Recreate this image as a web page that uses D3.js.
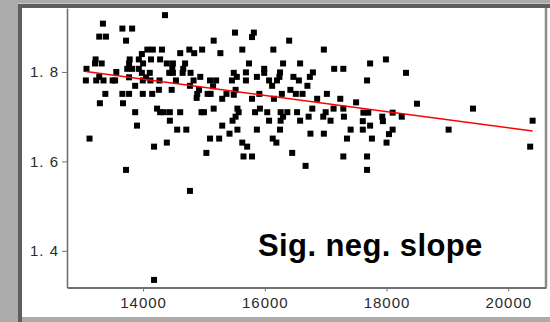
<!DOCTYPE html>
<html>
<head>
<meta charset="utf-8">
<script src="https://cdn.jsdelivr.net/npm/d3@7"></script>
<style>
  body { margin: 0; background: #ababab; }
  svg { display: block; }
</style>
</head>
<body>
<svg class="scatter"></svg>
<script>
// scatter data: x values and y values, same order
var xValues = [
  14360, 13340, 13660, 13820, 13280, 13390, 13720, 15510, 15160, 14070,
  14160, 14310, 13980, 14610, 14760, 14840, 14970, 15270, 13780, 13930,
  14130, 14280, 13220, 13210, 13320, 13770, 14000, 14390, 14490, 14690,
  13740, 13820, 13930, 13070, 14480, 14660, 14430, 14490, 14650, 14780,
  13560, 13980, 14110, 15490, 13280, 13770, 14050, 14940, 13060, 13230,
  13350, 13500, 13540, 13995, 14120, 14270, 14540, 14830, 15100, 15200,
  15460, 13870, 14770, 15150, 14260, 14470, 14920, 13380, 13660, 13770,
  13995, 14150, 14890, 15060, 15110, 15370, 14880, 15300, 15490,
  15820, 15790, 16400, 15630, 16140, 16970, 17990, 17730, 15740, 16300,
  16580, 15690, 15990, 15990, 16250, 16790, 17140, 17290, 15540, 15870,
  16470, 16740, 15690, 16070, 16200, 16240, 16560, 17680, 16120, 16700,
  15520, 16420, 15910, 16280, 16510, 16620, 17020, 15790, 16150, 16860,
  17240, 17500,
  18320, 18500, 19420,
  13290, 13670, 13870, 14230, 14280, 14340, 14440, 14610, 14960, 15000,
  15160, 15550, 15570, 15840, 15920, 16040, 16260, 16370, 16530, 16780,
  17000, 17130, 17290, 17620, 17700, 17930, 18100, 18250, 14440, 15470,
  15520, 16070, 16260, 16300, 16580, 16720, 16960, 17080, 17300, 17610,
  17940, 13900, 14560, 14710, 15300, 15550, 15870, 16250, 17410, 17610,
  17730, 18100, 13120, 15100, 15250, 15420, 16130, 16750, 16970, 17350,
  17760, 18040, 14180, 14390, 15630, 15710, 16190, 18000, 15040, 15650,
  15790, 16450, 17290, 17680, 13720, 16670, 17680, 19020, 20400, 20360,
  14770, 14180
];

var yValues = [
  1.927, 1.908, 1.897, 1.897, 1.879, 1.879, 1.870, 1.888, 1.870, 1.850,
  1.850, 1.850, 1.840, 1.842, 1.850, 1.842, 1.850, 1.842, 1.828, 1.828,
  1.828, 1.828, 1.828, 1.819, 1.819, 1.819, 1.819, 1.819, 1.819, 1.819,
  1.807, 1.807, 1.807, 1.807, 1.807, 1.807, 1.798, 1.798, 1.798, 1.798,
  1.800, 1.798, 1.798, 1.798, 1.789, 1.788, 1.788, 1.789, 1.781, 1.781,
  1.781, 1.781, 1.781, 1.781, 1.781, 1.781, 1.781, 1.781, 1.781, 1.781,
  1.781, 1.769, 1.769, 1.768, 1.760, 1.760, 1.760, 1.751, 1.751, 1.751,
  1.751, 1.751, 1.751, 1.751, 1.751, 1.751, 1.742, 1.740, 1.749,
  1.888, 1.878, 1.870, 1.850, 1.850, 1.850, 1.828, 1.819, 1.819, 1.819,
  1.819, 1.799, 1.807, 1.798, 1.799, 1.799, 1.807, 1.807, 1.789, 1.789,
  1.789, 1.789, 1.781, 1.781, 1.781, 1.789, 1.781, 1.781, 1.769, 1.769,
  1.760, 1.760, 1.751, 1.751, 1.751, 1.751, 1.751, 1.740, 1.740, 1.740,
  1.740, 1.732,
  1.798, 1.729, 1.718,
  1.730, 1.730, 1.710, 1.718, 1.710, 1.710, 1.710, 1.710, 1.710, 1.710,
  1.718, 1.718, 1.710, 1.710, 1.718, 1.710, 1.710, 1.710, 1.710, 1.718,
  1.710, 1.718, 1.718, 1.709, 1.709, 1.700, 1.709, 1.700, 1.691, 1.691,
  1.700, 1.691, 1.691, 1.700, 1.691, 1.700, 1.700, 1.691, 1.700, 1.690,
  1.690, 1.680, 1.671, 1.671, 1.680, 1.671, 1.671, 1.671, 1.671, 1.671,
  1.680, 1.671, 1.651, 1.651, 1.651, 1.662, 1.651, 1.662, 1.662, 1.651,
  1.651, 1.661, 1.633, 1.642, 1.642, 1.633, 1.642, 1.642, 1.619, 1.611,
  1.611, 1.619, 1.611, 1.611, 1.581, 1.590, 1.581, 1.671, 1.691, 1.633,
  1.534, 1.335
];

// fitted line ends
var fitX = [13060, 20400];
var fitY = [1.801, 1.668];

var xTicks = [14000, 16000, 18000, 20000];
var yTicks = [1.4, 1.6, 1.8];
var note = "Sig. neg. slope";

var data = xValues.map(function(d, i) { return {x: d, y: yValues[i]}; });

var width = 550, height = 322;
var plot = {left: 67, right: 546, top: 8, bottom: 287.5};

var x = d3.scaleLinear()
    .domain([12750, 20620])
    .range([plot.left, plot.right]);

var y = d3.scaleLinear()
    .domain([1.318, 1.943])
    .range([plot.bottom, plot.top]);

var svg = d3.select(".scatter")
    .attr("width", width)
    .attr("height", height);

// window frame
svg.append("rect").attr("width", width).attr("height", height).attr("fill", "#ababab");
svg.append("rect").attr("x", 18).attr("y", 3).attr("width", 532).attr("height", 1).attr("fill", "#c8c8c8");
svg.append("rect").attr("x", 18).attr("y", 4).attr("width", 532).attr("height", 4).attr("fill", "#5e5e5e");
svg.append("rect").attr("x", 18).attr("y", 4).attr("width", 4).attr("height", 318).attr("fill", "#5e5e5e");
svg.append("rect").attr("x", 22).attr("y", 8).attr("width", 528).attr("height", 309).attr("fill", "#fff");

// right border of plot
svg.append("line")
    .attr("x1", plot.right).attr("x2", plot.right)
    .attr("y1", plot.top).attr("y2", plot.bottom)
    .attr("stroke", "#8c8c8c").attr("stroke-width", 2.5);

var yAxis = g => g
    .attr("transform", "translate(" + plot.left + ",0)")
    .call(d3.axisLeft(y).tickValues(yTicks).tickSize(5).tickSizeOuter(0)
        .tickFormat(d => d3.format(".1f")(d).replace(".", ". ")))
    .call(g => g.select(".domain").attr("stroke", "#707070").attr("stroke-width", 1.6));

var xAxis = g => g
    .attr("transform", "translate(0," + plot.bottom + ")")
    .call(d3.axisBottom(x).tickValues(xTicks).tickSize(4).tickSizeOuter(0)
        .tickFormat(d3.format("d")))
    .call(g => g.select(".domain").attr("stroke", "#707070").attr("stroke-width", 2));

svg.append("g").call(yAxis);
svg.append("g").call(xAxis);

svg.selectAll(".tick line").attr("stroke", "#707070");
svg.selectAll(".tick text")
    .attr("fill", "#2a2a2a")
    .style("font-family", "'Liberation Sans', Arial, sans-serif")
    .style("font-size", "15px")
    .style("letter-spacing", "1px");
svg.selectAll(".tick text").filter(function() { return this.parentNode.parentNode.getAttribute("transform").indexOf("translate(0,") === 0; })
    .attr("y", 10);

// points
svg.append("g").selectAll("rect")
    .data(data)
  .enter().append("rect")
    .attr("x", d => x(d.x) - 3)
    .attr("y", d => y(d.y) - 3)
    .attr("width", 6)
    .attr("height", 6)
    .attr("fill", "#000");

// regression line
svg.append("path")
    .datum(fitX.map((d, i) => [d, fitY[i]]))
    .attr("fill", "none")
    .attr("stroke", "#ff0000")
    .attr("stroke-width", 1.5)
    .attr("d", d3.line().x(d => x(d[0])).y(d => y(d[1])));

svg.append("text")
    .attr("x", 258)
    .attr("y", 256)
    .style("font-family", "'Liberation Sans', Arial, sans-serif")
    .style("font-weight", "bold")
    .style("font-size", "31px")
    .style("letter-spacing", "0.4px")
    .attr("fill", "#000")
    .text(note);
</script>
</body>
</html>
